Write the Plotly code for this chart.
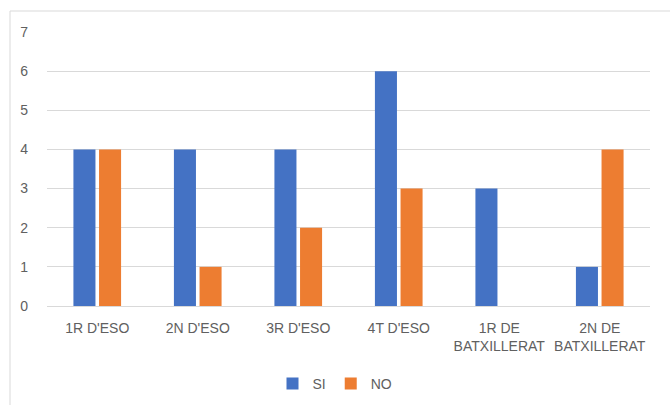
import plotly.graph_objects as go

categories = ["1R D'ESO", "2N D'ESO", "3R D'ESO", "4T D'ESO", "1R DE<br>BATXILLERAT", "2N DE<br>BATXILLERAT"]
si_values = [4, 4, 4, 6, 3, 1]
no_values = [4, 1, 2, 3, 0, 4]
y_ticks = [0, 1, 2, 3, 4, 5, 6, 7]

FONT = "Liberation Sans Narrow, Arial Narrow, Liberation Sans, sans-serif"
GRAY = "#606060"

fig = go.Figure()
fig.add_trace(go.Bar(x=categories, y=si_values, name="SI", marker=dict(color="#4472C4", line=dict(width=0))))
fig.add_trace(go.Bar(x=categories, y=no_values, name="NO", marker=dict(color="#ED7D31", line=dict(width=0))))

L, R, T, B = 47, 20, 32, 99
W, H = 670, 405
pw = W - L - R
ph = H - T - B

fig.update_layout(
    width=W, height=H,
    margin=dict(l=L, r=R, t=T, b=B, pad=0, autoexpand=False),
    paper_bgcolor="white", plot_bgcolor="white",
    barmode="group", bargap=0.49, bargroupgap=0.14,
    font=dict(family=FONT, size=14, color=GRAY),
    showlegend=True,
    legend=dict(orientation="h", xref="container", yref="container",
                x=0.5, xanchor="center", y=1 - 384 / H, yanchor="middle",
                font=dict(family=FONT, size=14, color=GRAY), itemwidth=30, traceorder="normal"),
    xaxis=dict(showgrid=False, showline=True, linecolor="#D9D9D9", linewidth=1, automargin=False,
               ticks="", ticklabelstandoff=9,
               tickfont=dict(family=FONT, size=14, color=GRAY), fixedrange=True),
    yaxis=dict(range=[0, 7], tickvals=y_ticks, showgrid=True, gridcolor="#D9D9D9", gridwidth=1,
               zeroline=False, showline=False, ticks="", ticklabelstandoff=18, automargin=False,
               tickfont=dict(family=FONT, size=14, color=GRAY), fixedrange=True),
    shapes=[dict(type="rect", xref="paper", yref="paper",
                 x0=(10 - L) / pw, x1=(W + 10 - L) / pw,
                 y0=-(H + 10 - T - ph) / ph, y1=(T + ph - 11) / ph,
                 line=dict(color="#D9D9D9", width=1), layer="below")],
)

fig.write_html("out.html", config={"displayModeBar": False},
               post_script="document.body.style.margin='0';document.body.style.padding='0';")
